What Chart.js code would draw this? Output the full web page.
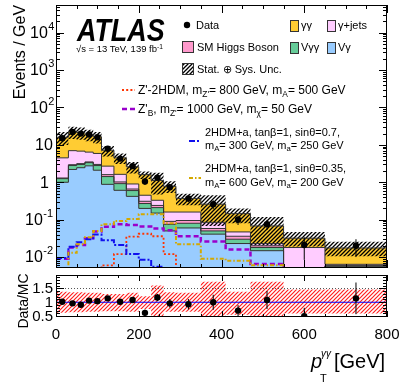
<!DOCTYPE html>
<html><head><meta charset="utf-8">
<title>ATLAS pT gamma gamma</title>
<script src="https://cdn.jsdelivr.net/npm/chart.js@4.4.0/dist/chart.umd.min.js"></script>
<style>
html,body{margin:0;padding:0;background:#fff;}
#wrap{position:relative;width:399px;height:385px;overflow:hidden;font-family:"Liberation Sans",Arial,Helvetica,sans-serif;color:#000;}
canvas{position:absolute;left:0;}
#c1{top:0;} #c2{top:270px;}
.t{position:absolute;white-space:nowrap;line-height:1;}
.lg{font-size:11px;}
.lz{font-size:12px;}
.sb{font-size:70%;position:relative;top:0.35em;}
.sp{font-size:70%;position:relative;top:-0.45em;}
.rot{transform:translate(-50%,-50%) rotate(-90deg);}
</style></head>
<body><div id="wrap">
<canvas id="c1" width="399" height="272"></canvas>
<canvas id="c2" width="399" height="115"></canvas>

<div class="t" style="left:77px;top:14px;font-size:32px;font-weight:bold;font-style:italic;transform:scaleX(0.84);transform-origin:0 0;">ATLAS</div>
<div class="t" style="left:76px;top:44px;font-size:9.5px;">√s = 13 TeV, 139 fb<span class="sp">-1</span></div>

<div class="t lg" style="left:196px;top:19.5px;">Data</div>
<div class="t lg" style="left:301px;top:19.5px;">γγ</div>
<div class="t lg" style="left:338px;top:19.5px;">γ+jets</div>
<div class="t lg" style="left:197px;top:41.5px;">SM Higgs Boson</div>
<div class="t lg" style="left:301px;top:41.5px;">Vγγ</div>
<div class="t lg" style="left:338px;top:41.5px;">Vγ</div>
<div class="t lg" style="left:197px;top:63.5px;">Stat. ⊕ Sys. Unc.</div>
<div class="t lz" style="left:138px;top:84px;">Z'-2HDM, m<span class="sb">Z'</span>= 800 GeV, m<span class="sb">A</span>= 500 GeV</div>
<div class="t lz" style="left:138px;top:103px;">Z'<span class="sb">B</span>, m<span class="sb">Z'</span>= 1000 GeV, m<span class="sb">χ</span>= 50 GeV</div>
<div class="t lg" style="left:205px;top:126.5px;">2HDM+a, tanβ=1, sinθ=0.7,</div>
<div class="t lg" style="left:205px;top:139.5px;">m<span class="sb">A</span>= 300 GeV, m<span class="sb">a</span>= 250 GeV</div>
<div class="t lg" style="left:205px;top:162.5px;">2HDM+a, tanβ=1, sinθ=0.35,</div>
<div class="t lg" style="left:205px;top:176.5px;">m<span class="sb">A</span>= 600 GeV, m<span class="sb">a</span>= 200 GeV</div>

<div class="t rot" style="left:20px;top:52px;font-size:16px;">Events / GeV</div>
<div class="t rot" style="left:23px;top:301px;font-size:14px;">Data/MC</div>

<div class="t" style="left:311px;top:351px;font-size:20px;font-style:italic;">p</div>
<div class="t" style="left:320px;top:373px;font-size:11px;">T</div>
<div class="t" style="left:321px;top:349px;font-size:10px;font-style:italic;">γγ</div>
<div class="t" style="left:334px;top:351px;font-size:20px;">[GeV]</div>
</div>

<script>
// ---------------- data ----------------
const edges   = [0,30,50,70,90,110,140,170,200,230,260,290,350,410,470,550,650,800];
const vgam    = [1.0, 2.2, 2.45, 2.75, 2.1, 0.88, 0.61, 0.42, 0.2, 0.15, 0.05, 0.06, 0.041, 0.023, 0.0148, 0.003, 0.0054];
const vgamgam = [0.25, 0.6, 0.55, 0.6, 0.7, 0.54, 0.31, 0.18, 0.07, 0.06, 0.025, 0.02, 0.009, 0.007, 0.0032, 0.001, 0.0003];
const higgs   = [0.05, 0.15, 0.15, 0.15, 0.2, 0.18, 0.1, 0.06, 0.04, 0.03, 0.015, 0.015, 0.008, 0.006, 0.002, 0.0005, 0.0002];
const gjets   = [3.2, 4.05, 3.65, 2.9, 2.9, 1.1, 0.61, 0.24, 0.14, 0.09, 0.07, 0.065, 0.027, 0.011, 0.003, 0.0135, 0.0005];
const gamgam  = [11.5, 15.5, 14.7, 12.6, 10.6, 4.5, 2.87, 1.7, 1.15, 0.79, 0.62, 0.21, 0.175, 0.098, 0.045, 0.014, 0.0111];
const dataVals= [15, 22, 20, 19, 16, 7.9, 4.3, 2.7, 1.05, 1.33, 0.74, 0.37, 0.26, 0.10, 0.076, 0.021, 0.02];
const dataRelErr = [0.04,0.04,0.04,0.04,0.04,0.05,0.06,0.08,0.19,0.11,0.16,0.2,0.27,0.28,0.3,0.6,0.5];
const ratioVals  = [1.02, 0.96, 0.91, 1.06, 1.04, 1.14, 1.02, 1.08, 0.62, 1.17, 0.96, 0.93, 1.0, 0.70, 1.08, 0.5, 1.14];
const uncHi   = [1.38, 1.36, 1.36, 1.34, 1.34, 1.3, 1.3, 1.34, 1.22, 1.6, 1.36, 1.34, 1.74, 1.38, 1.74, 1.46, 1.46];
const uncLo   = [0.62, 0.64, 0.64, 0.66, 0.66, 0.68, 0.68, 0.66, 0.76, 0.42, 0.66, 0.66, 0.26, 0.55, 0.3, 0.6, 0.6];
const sigZp2HDM = [0.001, 0.001, 0.001, 0.0015, 0.003, 0.006, 0.012, 0.035, 0.042, 0.036, 0.012, 0.005, 0.003, 0.002, 0.0015, 0.001, 0.001];
const sigZpB    = [0.009, 0.018, 0.021, 0.032, 0.048, 0.065, 0.075, 0.072, 0.066, 0.058, 0.052, 0.036, 0.026, 0.016, 0.0065, 0.002, 0.001];
const sig2HDMa07  = [0.0095, 0.019, 0.025, 0.03, 0.04, 0.028, 0.021, 0.012, 0.0085, 0.0055, 0.003, 0.002, 0.0015, 0.001, 0.001, 0.001, 0.001];
const sig2HDMa035 = [0.004, 0.013, 0.022, 0.034, 0.05, 0.075, 0.092, 0.105, 0.14, 0.14, 0.08, 0.022, 0.009, 0.008, 0.006, 0.004, 0.003];
const yLogTicks = [-2,-1,0,1,2,3,4];
const ratioTickLabels = ['0.5','1','1.5'];
const xTickLabels = [0,200,400,600,800];

// ---------------- helpers ----------------
const COL = {vg:'#99ccff', vgg:'#66cc99', h:'#ff99cc', gj:'#ffccff', gg:'#ffcc33'};
const centers = dataVals.map((_,i)=>(edges[i]+edges[i+1])/2);
function steps(vals){ return edges.map((e,i)=>({x:e, y:vals[Math.min(i, vals.length-1)]})); }
function cumulate(list){ const out=[]; let acc=new Array(list[0].length).fill(0); for(const a of list){ acc=acc.map((v,i)=>v+a[i]); out.push(acc.slice()); } return out; }
function hatch(color, size, lw){
  const c=document.createElement('canvas'); c.width=c.height=size;
  const x=c.getContext('2d'); x.strokeStyle=color; x.lineWidth=lw; x.beginPath();
  x.moveTo(0,size); x.lineTo(size,0); x.moveTo(-2,2); x.lineTo(2,-2); x.moveTo(size-2,size+2); x.lineTo(size+2,size-2);
  x.stroke(); return x.createPattern(c,'repeat');
}
const blackHatch = hatch('#000', 4, 1.3);
const redHatch = hatch('#ff2020', 4, 1.2);
const cum = cumulate([vgam, vgamgam, higgs, gjets, gamgam]);
const total = cum[4];
function errSegs(vals, rel){ const d=[]; vals.forEach((v,i)=>{ d.push({x:centers[i], y:v*(1-rel[i])}); d.push({x:centers[i], y:v*(1+rel[i])}); d.push({x:centers[i], y:null}); }); return d; }
const FONT = "'Liberation Sans', Arial, sans-serif";

const SIG = [
  {v:sigZp2HDM, c:'#ff3300', d:[2,2.2], w:1.8},
  {v:sigZpB, c:'#9900cc', d:[5,3], w:2.5},
  {v:sig2HDMa07, c:'#1010ee', d:[6,2,2,2], w:2},
  {v:sig2HDMa035, c:'#d4a800', d:[4,2,1.5,2], w:2}
];

// ---------------- main chart ----------------
const mainDecor = {
  id:'mainDecor',
  afterDraw(chart){
    const {ctx, chartArea:a, scales:{x,y}} = chart;
    ctx.save();
    ctx.strokeStyle='#000'; ctx.lineWidth=1; ctx.setLineDash([]);
    ctx.beginPath();
    for(let k=-3;k<=4;k++) for(let m=1;m<=9;m++){
      const v=m*Math.pow(10,k); if(v<y.min||v>y.max) continue;
      const py=Math.round(y.getPixelForValue(v))+0.5; const L=m===1?8:4;
      ctx.moveTo(a.left,py); ctx.lineTo(a.left+L,py); ctx.moveTo(a.right,py); ctx.lineTo(a.right-L,py);
    }
    for(let v=0; v<=800; v+=50){
      const px=Math.round(x.getPixelForValue(v))+0.5; const L=v%200===0?8:4;
      ctx.moveTo(px,a.bottom); ctx.lineTo(px,a.bottom-L); ctx.moveTo(px,a.top); ctx.lineTo(px,a.top+L);
    }
    ctx.stroke();
    ctx.strokeRect(a.left+0.5,a.top+0.5,a.right-a.left-1,a.bottom-a.top-1);
    ctx.fillStyle='#000'; ctx.textBaseline='middle'; ctx.textAlign='left';
    yLogTicks.forEach(k=>{
      const py=y.getPixelForValue(Math.pow(10,k));
      const base = k===0?'1':'10';
      const x0 = k===0?40:(k===1?35:(k<0?25:30));
      ctx.font='16px '+FONT; ctx.fillText(base, x0, py+1);
      if(k!==0 && k!==1){ const w=ctx.measureText(base).width; ctx.font='11px '+FONT; ctx.fillText(String(k), x0+w+0.5, py-6); }
    });
    const box=(bx,by,w,h,fill)=>{ ctx.fillStyle=fill; ctx.fillRect(bx,by,w,h); ctx.strokeStyle='#333'; ctx.lineWidth=1; ctx.strokeRect(bx+0.5,by+0.5,w-1,h-1); };
    ctx.beginPath(); ctx.fillStyle='#000'; ctx.arc(187,25,3.2,0,Math.PI*2); ctx.fill();
    box(290,20,9,12,COL.gg); box(327,20,9,12,COL.gj);
    box(182,41,12,12,COL.h); box(290,42,9,12,COL.vgg); box(327,42,9,12,COL.vg);
    box(182,63,12,12,'#fff'); box(182,63,12,12,blackHatch);
    const ls=[[122,135,90],[122,135,109],[189,201,141],[189,201,178]];
    SIG.forEach((s,i)=>{ ctx.beginPath(); ctx.strokeStyle=s.c; ctx.lineWidth=s.w; ctx.setLineDash(s.d); ctx.moveTo(ls[i][0],ls[i][2]); ctx.lineTo(ls[i][1],ls[i][2]); ctx.stroke(); });
    ctx.restore();
  }
};

const stackDefs = [['Vγ',COL.vg],['Vγγ',COL.vgg],['SM Higgs',COL.h],['γ+jets',COL.gj],['γγ',COL.gg]];
const mainDatasets = [];
stackDefs.forEach((s,i)=>{
  mainDatasets.push({label:s[0], data:steps(cum[i]), stepped:true, fill: i===0?'start':'-1', backgroundColor:s[1], borderColor:'#333', borderWidth:1, pointRadius:0, order:20-i});
});
mainDatasets.push({label:'uncLo', data:steps(total.map((v,i)=>v*uncLo[i])), stepped:true, fill:false, borderWidth:0, borderColor:'rgba(0,0,0,0)', pointRadius:0, order:14});
mainDatasets.push({label:'uncUp', data:steps(total.map((v,i)=>v*uncHi[i])), stepped:true, fill:'-1', backgroundColor:blackHatch, borderWidth:0, borderColor:'rgba(0,0,0,0)', pointRadius:0, order:13});
SIG.forEach((s,i)=>{
  mainDatasets.push({label:'sig'+i, data:steps(s.v), stepped:true, fill:false, borderColor:s.c, borderWidth:s.w, borderDash:s.d, pointRadius:0, order:10-i});
});
mainDatasets.push({label:'err', data:errSegs(dataVals, dataRelErr), spanGaps:false, fill:false, borderColor:'#000', borderWidth:1, pointRadius:0, order:2});
mainDatasets.push({label:'Data', data:dataVals.map((v,i)=>({x:centers[i], y:v})), showLine:false, pointRadius:3.2, pointBackgroundColor:'#000', pointBorderWidth:0, order:1});

new Chart(document.getElementById('c1'), {
  type:'line',
  data:{datasets:mainDatasets},
  options:{
    responsive:false, animation:false, events:[],
    layout:{padding:{left:56,right:12,top:5,bottom:3}},
    plugins:{legend:{display:false}, tooltip:{enabled:false}, filler:{propagate:false, drawTime:'beforeDatasetsDraw'}},
    scales:{
      x:{type:'linear', min:0, max:800, display:false},
      y:{type:'logarithmic', min:0.0051, max:55000, display:false}
    }
  },
  plugins:[mainDecor]
});

// ---------------- ratio chart ----------------
const ratioDecor = {
  id:'ratioDecor',
  beforeDatasetsDraw(chart){
    const {ctx, chartArea:a, scales:{y}} = chart;
    ctx.save(); ctx.strokeStyle='#555'; ctx.lineWidth=1; ctx.setLineDash([1,2]);
    [0.5,1.5].forEach(v=>{ const py=Math.round(y.getPixelForValue(v))+0.5; ctx.beginPath(); ctx.moveTo(a.left,py); ctx.lineTo(a.right,py); ctx.stroke(); });
    ctx.restore();
  },
  afterDraw(chart){
    const {ctx, chartArea:a, scales:{x,y}} = chart;
    ctx.save(); ctx.strokeStyle='#000'; ctx.lineWidth=1; ctx.setLineDash([]);
    ctx.beginPath();
    for(let v=0; v<=800; v+=50){
      const px=Math.round(x.getPixelForValue(v))+0.5; const L=v%200===0?6:3;
      ctx.moveTo(px,a.bottom); ctx.lineTo(px,a.bottom-L); ctx.moveTo(px,a.top); ctx.lineTo(px,a.top+L);
    }
    for(let i=5;i<=19;i++){
      const v=i/10; if(v<y.min||v>y.max) continue;
      const py=Math.round(y.getPixelForValue(v))+0.5; const L=(i%5===0)?8:4;
      ctx.moveTo(a.left,py); ctx.lineTo(a.left+L,py); ctx.moveTo(a.right,py); ctx.lineTo(a.right-L,py);
    }
    ctx.stroke();
    ctx.strokeRect(a.left+0.5,a.top+0.5,a.right-a.left-1,a.bottom-a.top-1);
    ctx.fillStyle='#000'; ctx.font='15px '+FONT;
    ctx.textAlign='right'; ctx.textBaseline='middle';
    ratioTickLabels.forEach(t=>ctx.fillText(t, 53, y.getPixelForValue(parseFloat(t))+1));
    ctx.textAlign='center';
    xTickLabels.forEach(v=>ctx.fillText(String(v), x.getPixelForValue(v), 65));
    ctx.restore();
  }
};

new Chart(document.getElementById('c2'), {
  type:'line',
  data:{datasets:[
    {label:'bandLo', data:steps(uncLo), stepped:true, fill:false, borderWidth:0, borderColor:'rgba(0,0,0,0)', pointRadius:0, order:10},
    {label:'bandUp', data:steps(uncHi), stepped:true, fill:'-1', backgroundColor:redHatch, borderWidth:0, borderColor:'rgba(0,0,0,0)', pointRadius:0, order:9},
    {label:'one', data:[{x:0,y:1},{x:800,y:1}], fill:false, borderColor:'#0000ff', borderWidth:1.2, pointRadius:0, order:5},
    {label:'err', data:errSegs(ratioVals, dataRelErr), spanGaps:false, fill:false, borderColor:'#000', borderWidth:1, pointRadius:0, order:2},
    {label:'ratio', data:ratioVals.map((v,i)=>({x:centers[i], y:v})), showLine:false, pointRadius:3.2, pointBackgroundColor:'#000', pointBorderWidth:0, order:1}
  ]},
  options:{
    responsive:false, animation:false, events:[],
    layout:{padding:{left:56,right:12,top:5,bottom:68}},
    plugins:{legend:{display:false}, tooltip:{enabled:false}, filler:{propagate:false, drawTime:'beforeDatasetsDraw'}},
    scales:{
      x:{type:'linear', min:0, max:800, display:false},
      y:{type:'linear', min:0.47, max:1.98, display:false}
    }
  },
  plugins:[ratioDecor]
});
</script>
</body></html>
